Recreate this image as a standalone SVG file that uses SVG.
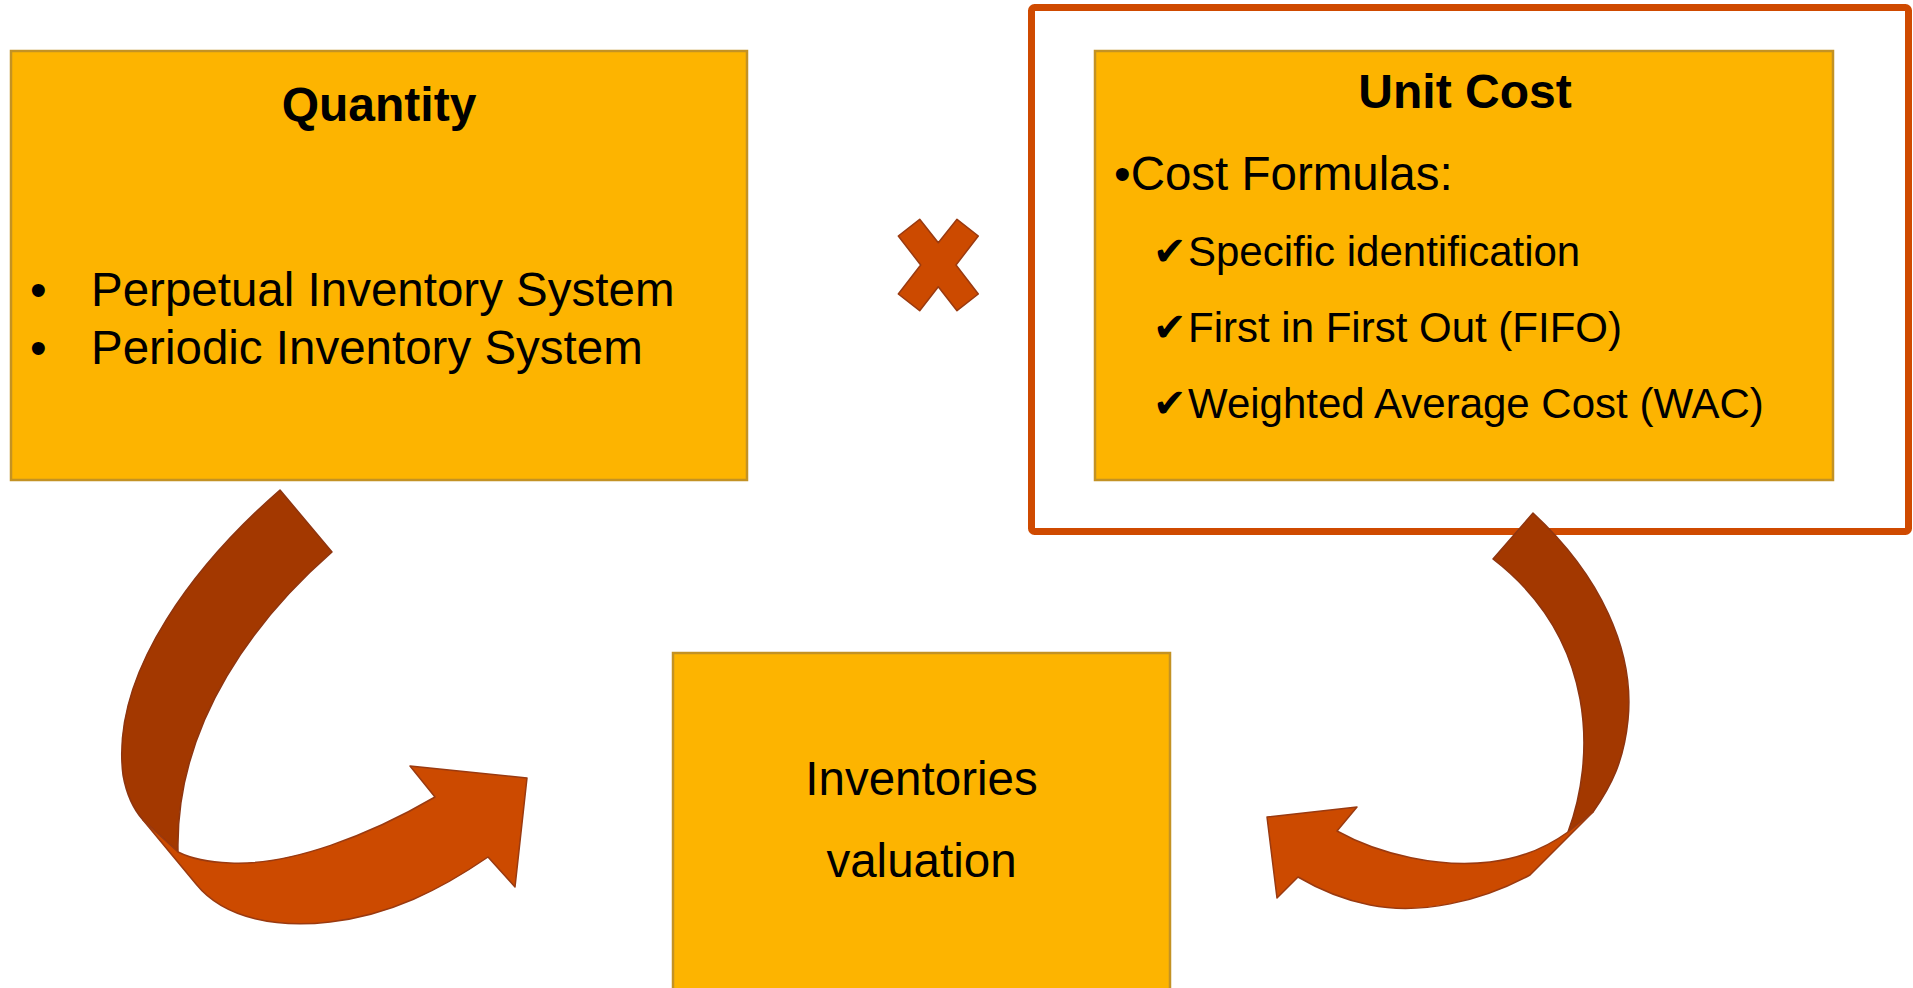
<svg xmlns="http://www.w3.org/2000/svg" width="1913" height="988" viewBox="0 0 1913 988">
<style>
.box{fill:#FDB400;stroke:#C39224;stroke-width:2.5}
.t{font-family:"Liberation Sans",Arial,sans-serif;fill:#000}
.b{font-weight:bold;font-size:48px}
.r{font-size:47.5px}
.li{font-size:42px}
.chk{font-family:"DejaVu Sans",sans-serif;font-size:40px;font-weight:bold;fill:#000}
.dark{fill:#A33800;stroke:#8E3510;stroke-width:1.5;stroke-linejoin:round}
.org{fill:#CC4A00;stroke:#9A3A10;stroke-width:1.5;stroke-linejoin:round}
</style>
<rect width="1913" height="988" fill="#fff"/>
<g id="frame">
<rect x="1031.5" y="7.5" width="877" height="524" rx="3" fill="none" stroke="#CF4A00" stroke-width="7"/>
</g>
<g id="quantity">
<rect class="box" x="11" y="51" width="736" height="429"/>
<text class="t b" x="379" y="121" text-anchor="middle">Quantity</text>
<text class="t r" x="30" y="306">•</text>
<text class="t r" x="91" y="306">Perpetual Inventory System</text>
<text class="t r" x="30" y="364">•</text>
<text class="t r" x="91" y="364">Periodic Inventory System</text>
</g>
<g id="unitcost">
<rect class="box" x="1095" y="51" width="738" height="429"/>
<text class="t b" x="1465" y="108" text-anchor="middle">Unit Cost</text>
<text class="t r" x="1114" y="190">•Cost Formulas:</text>
<text class="chk" x="1153" y="265">✔</text>
<text class="t li" x="1188" y="266">Specific identification</text>
<text class="chk" x="1153" y="341">✔</text>
<text class="t li" x="1188" y="342">First in First Out (FIFO)</text>
<text class="chk" x="1153" y="417">✔</text>
<text class="t li" x="1188" y="418">Weighted Average Cost (WAC)</text>
</g>
<g id="times">
<path class="org" d="M919.7,219.3 L938.3,242.7 L957,219.3 L978.3,236 L956,265 L978.3,294 L957,310.7 L938.3,286.7 L919.7,310.7 L898.3,294 L920.7,265 L898.3,236 Z"/>
</g>
<g id="valuation">
<rect class="box" x="673" y="653" width="497" height="350"/>
<text class="t r" x="921.5" y="795" text-anchor="middle">Inventories</text>
<text class="t r" x="921.5" y="877" text-anchor="middle">valuation</text>
</g>
<g id="connectors">
<path class="dark" d="M280,490 L332,552 C260,615 175,720 178,852 L143,820 Q128,803 123,775 C110,670 200,560 280,490 Z"/>
<path class="org" d="M143,820 L196,884 C225,920 280,928 330,922 C390,915 440,890 488,857 L515,887 L527,778 L410,766 L435,797 C370,835 290,866 230,863 C205,862 190,858 178,852 Z"/>
<path class="dark" d="M1533,513 C1600,575 1635,650 1628,720 C1624,760 1612,785 1593,812 L1568,832 C1595,760 1598,640 1493,559 Z"/>
<path class="org" d="M1593,812 L1530,875 C1480,902 1420,915 1370,905 C1345,900 1320,890 1298,877 L1277,898 L1267,817 L1357,807 L1337,831 C1380,855 1440,868 1490,862 C1525,858 1550,845 1568,832 Z"/>
</g>
</svg>
